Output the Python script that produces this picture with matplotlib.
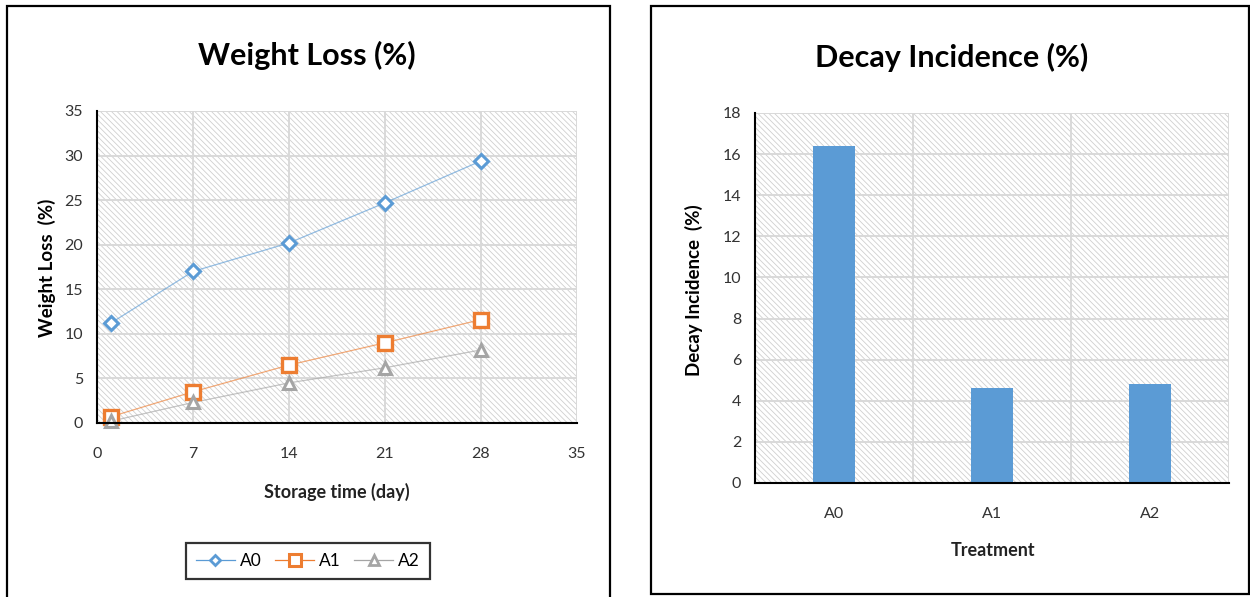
import matplotlib
matplotlib.use("Agg")
import matplotlib.pyplot as plt
from matplotlib.patches import Rectangle
from matplotlib.lines import Line2D

# ---- data ----
days = [1, 7, 14, 21, 28]
a0_loss = [11.2, 17.0, 20.2, 24.7, 29.4]
a1_loss = [0.7, 3.5, 6.5, 9.0, 11.6]
a2_loss = [0.2, 2.3, 4.5, 6.2, 8.2]
series_names = ["A0", "A1", "A2"]
x_ticks_left = [0, 7, 14, 21, 28, 35]
y_ticks_left = [0, 5, 10, 15, 20, 25, 30, 35]

treatments = ["A0", "A1", "A2"]
decay = [16.4, 4.6, 4.8]
y_ticks_right = [0, 2, 4, 6, 8, 10, 12, 14, 16, 18]

# ---- style ----
plt.rcParams['font.family'] = ['Lato', 'DejaVu Sans']
plt.rcParams['hatch.linewidth'] = 0.6
W, H = 1250, 597
fig = plt.figure(figsize=(W / 100, H / 100), dpi=100)

def fx(px):
    return px / W

def fy(py):
    return 1 - py / H

grid_c = '#d9d9d9'
hatch_c = '#cfcfcf'
blue = '#5B9BD5'
orange = '#ED7D31'
grey = '#A5A5A5'

# outer borders
fig.patches.append(Rectangle((fx(7), fy(600)), fx(610) - fx(7), fy(6) - fy(600),
                             transform=fig.transFigure, fill=False, edgecolor='black', linewidth=1.6))
fig.patches.append(Rectangle((fx(651), fy(594)), fx(1249) - fx(651), fy(6) - fy(594),
                             transform=fig.transFigure, fill=False, edgecolor='black', linewidth=1.6))

def style_axes(ax):
    ax.add_patch(Rectangle((0, 0), 1, 1, transform=ax.transAxes, facecolor='white',
                           edgecolor=hatch_c, linewidth=0, hatch='\\' * 6, zorder=0.1))
    ax.set_axisbelow(True)
    ax.grid(True, color=grid_c, linewidth=1.4)
    for s in ['top', 'right']:
        ax.spines[s].set_visible(False)
    for s in ['left', 'bottom']:
        ax.spines[s].set_color('black')
        ax.spines[s].set_linewidth(1.5)
        ax.spines[s].set_zorder(5)
    ax.tick_params(length=0, labelsize=11.5, colors='#333333')
    ax.tick_params(axis='x', pad=17)
    ax.tick_params(axis='y', pad=10)

# ---- left chart ----
ax1 = fig.add_axes([fx(97), fy(423), fx(577) - fx(97), fy(111) - fy(423)])
style_axes(ax1)
ax1.set_xlim(0, 35)
ax1.set_ylim(0, 35)
ax1.set_xticks(x_ticks_left)
ax1.set_yticks(y_ticks_left)

line_alpha = 0.65
ax1.plot(days, a0_loss, color=blue, linewidth=0.9, alpha=line_alpha, zorder=3)
ax1.plot(days, a1_loss, color=orange, linewidth=0.9, alpha=line_alpha, zorder=3)
ax1.plot(days, a2_loss, color=grey, linewidth=0.9, alpha=line_alpha, zorder=3)
ax1.plot(days, a0_loss, linestyle='none', marker='D', markersize=7,
         markerfacecolor='white', markeredgecolor=blue, markeredgewidth=2.2, zorder=4)
ax1.plot(days, a1_loss, linestyle='none', marker='s', markersize=9.5,
         markerfacecolor='white', markeredgecolor=orange, markeredgewidth=2.4, zorder=4)
ax1.plot(days, a2_loss, linestyle='none', marker='^', markersize=9,
         markerfacecolor='white', markeredgecolor=grey, markeredgewidth=2.2, zorder=4)
for ln in ax1.lines:
    ln.set_clip_on(False)

fig.text(fx(307), fy(55), "Weight Loss (%)", ha='center', va='center', fontsize=22, fontweight='bold')
fig.text(fx(337), fy(492), "Storage time (day)", ha='center', va='center', fontsize=13, fontweight='bold', color='#222222')
fig.text(fx(47), fy(268), "Weight Loss  (%)", ha='center', va='center', rotation=90,
         fontsize=13.5, fontweight='bold')

handles = [
    Line2D([], [], color=blue, linewidth=0.9, marker='D', markersize=5.5, markerfacecolor='white',
           markeredgecolor=blue, markeredgewidth=2),
    Line2D([], [], color=orange, linewidth=0.9, marker='s', markersize=8, markerfacecolor='white',
           markeredgecolor=orange, markeredgewidth=2.2),
    Line2D([], [], color=grey, linewidth=0.9, marker='^', markersize=6.5, markerfacecolor='white',
           markeredgecolor=grey, markeredgewidth=2),
]
leg = fig.legend(handles, series_names, loc='center', bbox_to_anchor=(fx(308), fy(561)), ncol=3,
                 frameon=True, fancybox=False, edgecolor='black', fontsize=12.5, handlelength=2.2,
                 columnspacing=0.8, handletextpad=0.3, borderpad=0.6, borderaxespad=0)
leg.get_frame().set_linewidth(1.6)

# ---- right chart ----
ax2 = fig.add_axes([fx(755), fy(483), fx(1229) - fx(755), fy(113) - fy(483)])
style_axes(ax2)
xpos = list(range(len(treatments)))
ax2.bar(xpos, decay, width=0.27, color=blue, zorder=3)
ax2.set_xlim(-0.5, len(treatments) - 0.5)
ax2.set_ylim(0, 18)
ax2.set_yticks(y_ticks_right)
ax2.set_xticks(xpos)
ax2.set_xticklabels(treatments)
ax2.set_xticks([-0.5, 0.5, 1.5, 2.5], minor=True)
ax2.xaxis.grid(False, which='major')
ax2.xaxis.grid(True, which='minor', color=grid_c, linewidth=1.4)
ax2.tick_params(which='minor', length=0)
ax2.yaxis.grid(True, color=grid_c, linewidth=1.4)

fig.text(fx(952), fy(57), "Decay Incidence (%)", ha='center', va='center', fontsize=22, fontweight='bold')
fig.text(fx(993), fy(550), "Treatment", ha='center', va='center', fontsize=13, fontweight='bold', color='#222222')
fig.text(fx(694), fy(290), "Decay Incidence  (%)", ha='center', va='center', rotation=90,
         fontsize=13.5, fontweight='bold')

fig.savefig("out.png", dpi=100, facecolor='white')
